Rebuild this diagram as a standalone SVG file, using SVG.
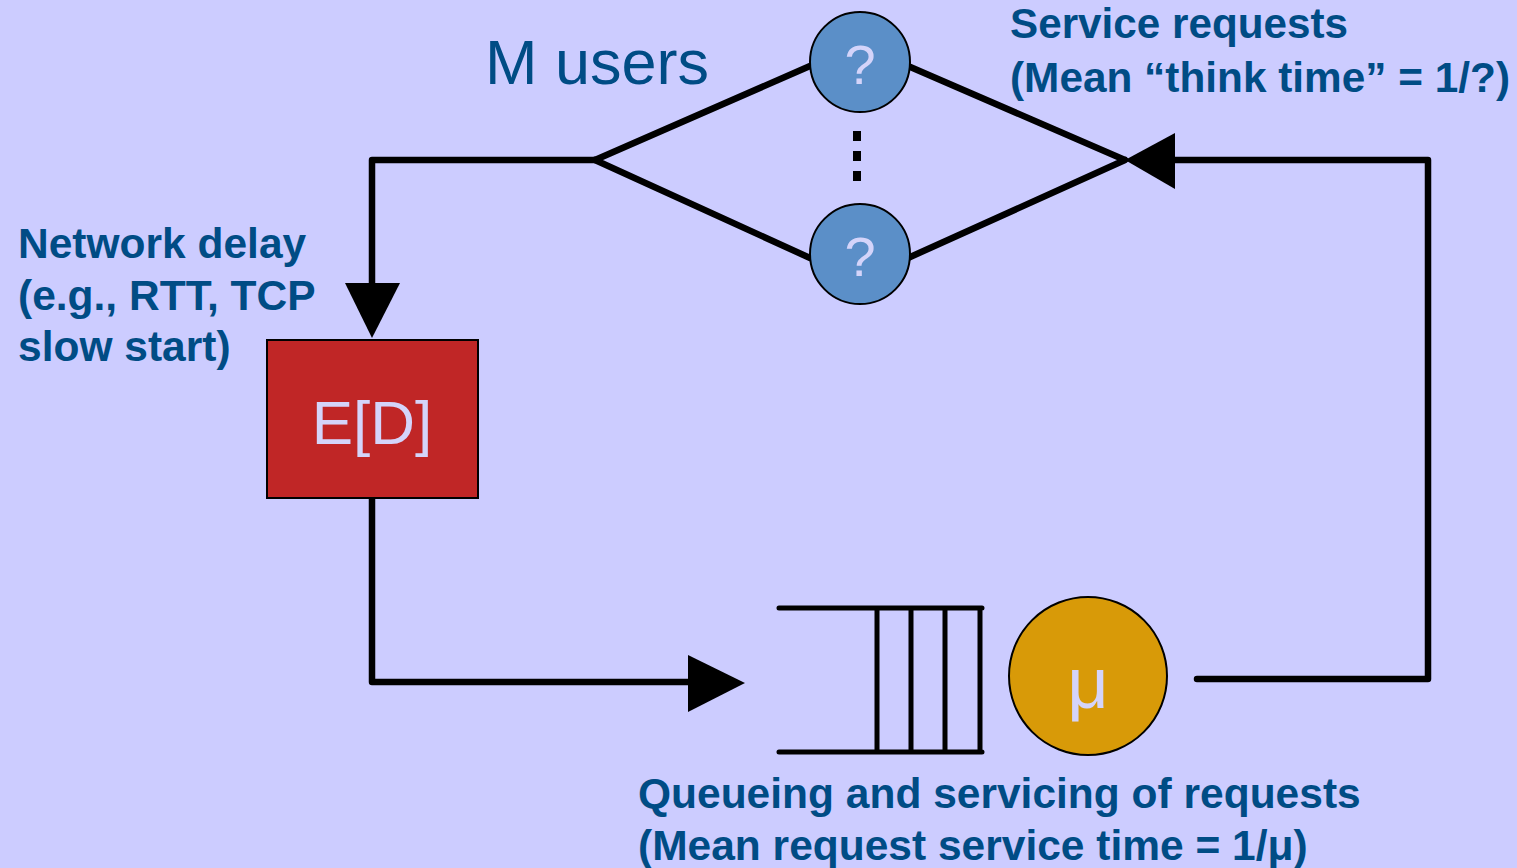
<svg xmlns="http://www.w3.org/2000/svg" width="1517" height="868" viewBox="0 0 1517 868">
<style>
.lbl{font-family:"Liberation Sans",Arial,sans-serif;font-weight:bold;font-size:42.5px;fill:#004C85}
.in{font-family:"Liberation Sans",Arial,sans-serif;fill:#D4D4FA;text-anchor:middle}
.ln{stroke:#000;stroke-width:6.5;fill:none;stroke-linecap:round;stroke-linejoin:round}
.q{stroke:#000;stroke-width:5;fill:none;stroke-linecap:round}
</style>
<rect width="1517" height="868" fill="#CCCCFF"/>
<g id="connectors">
<path class="ln" d="M595,160 L810,66 M595,160 L810,258 M908,66 L1125,160 M908,258 L1125,160"/>
<path class="ln" d="M595,160 L372,160 L372,290"/>
<polygon points="345,283 400,283 372,338" fill="#000"/>
<path class="ln" d="M372,498 L372,682 L692,682"/>
<polygon points="688,655 688,712 745,683" fill="#000"/>
<path class="ln" d="M1197,679 L1428,679 L1428,160 L1170,160"/>
<polygon points="1175,133 1175,189 1125,160" fill="#000"/>
</g>
<g id="users-label"><text x="485" y="84" style="font-family:'Liberation Sans',Arial,sans-serif;font-size:63px;fill:#004C85">M users</text></g>
<g id="user1">
<ellipse cx="860" cy="62" rx="50" ry="50" fill="#5B8FC8" stroke="#000" stroke-width="2"/>
<text class="in" x="860" y="84" font-size="56">?</text>
</g>
<g id="dots">
<rect x="853" y="131" width="8" height="10" fill="#000"/>
<rect x="853" y="151" width="8" height="10" fill="#000"/>
<rect x="853" y="171" width="8" height="10" fill="#000"/>
</g>
<g id="user2">
<ellipse cx="860" cy="254" rx="50" ry="50" fill="#5B8FC8" stroke="#000" stroke-width="2"/>
<text class="in" x="860" y="276" font-size="56">?</text>
</g>
<g id="delay">
<rect x="267" y="340" width="211" height="158" fill="#C02626" stroke="#000" stroke-width="2"/>
<text class="in" x="372" y="444" font-size="62">E[D]</text>
</g>
<g id="queue">
<path class="q" d="M779,608 L982,608 M779,752 L982,752 M877,608 L877,752 M911,608 L911,752 M945,608 L945,752 M980,608 L980,752"/>
</g>
<g id="server">
<circle cx="1088" cy="676" r="79" fill="#D89A08" stroke="#000" stroke-width="2"/>
<text class="in" x="1088" y="708" font-size="72">μ</text>
</g>
<g id="labels">
<text class="lbl" x="1010" y="38" textLength="338" lengthAdjust="spacingAndGlyphs">Service requests</text>
<text class="lbl" x="1010" y="92" textLength="500" lengthAdjust="spacingAndGlyphs">(Mean “think time” = 1/?)</text>
<text class="lbl" x="18" y="258">Network delay</text>
<text class="lbl" x="18" y="310">(e.g., RTT, TCP</text>
<text class="lbl" x="18" y="361">slow start)</text>
<text class="lbl" x="638" y="808">Queueing and servicing of requests</text>
<text class="lbl" x="638" y="860">(Mean request service time = 1/μ)</text>
</g>
</svg>
